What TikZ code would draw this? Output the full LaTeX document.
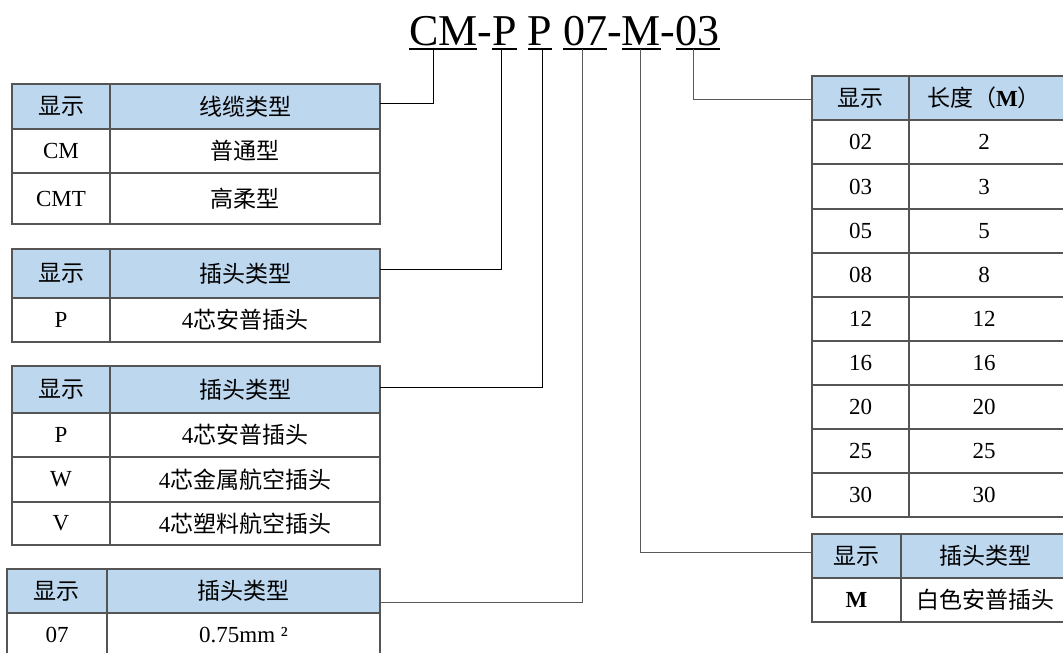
\documentclass[tikz,border=0pt]{standalone}
\usepackage{fontspec}
\setmainfont{Liberation Serif}
\newfontfamily\cjk{Noto Sans CJK SC}
\usetikzlibrary{calc}
\definecolor{hdr}{RGB}{189,215,238}
\definecolor{grid}{RGB}{85,85,85}
\tikzset{
 cell/.style={draw=grid, line width=1.1pt, inner sep=0pt, outer sep=0pt, font=\fontsize{23}{27}\selectfont, anchor=north west},
 head/.style={fill=hdr},
 body/.style={fill=white},
 ttl/.style={inner sep=0pt, outer sep=0pt, font=\fontsize{44}{50}\selectfont, anchor=base west},
 uline/.style={line width=2.5pt},
 conn/.style={line width=0.9pt, draw=black},
 conng/.style={line width=0.9pt, draw=black!65}
}
\newcommand\mkrow[9]{%
 \node[cell,#9,minimum width=#4,minimum height=#6] (#1l) at (#2,#3) {#7};
 \node[cell,#9,minimum width=#5,minimum height=#6] (#1r) at (#1l.north east) {#8};}
\newcommand\rsa[1]{#1\hspace*{20pt}}
\newcommand\rsb[1]{#1\hspace*{10pt}}
\begin{document}
\begin{tikzpicture}[x=1pt,y=-1pt]
\useasboundingbox (0,0) rectangle (1063,653);
\fill[white] (0,0) rectangle (1063,653);
\clip (0,0) rectangle (1063,653);

% title
\node[ttl] (cm) at (409,45) {CM};
\node[ttl] (h1) at (cm.base east) {-};
\node[ttl] (p1) at (h1.base east) {P};
\node[ttl] (p2) at ($(p1.base east)+(11,0)$) {P};
\node[ttl] (z7) at ($(p2.base east)+(11,0)$) {07};
\node[ttl] (h2) at (z7.base east) {-};
\node[ttl] (mm) at (h2.base east) {M};
\node[ttl] (h3) at (mm.base east) {-};
\node[ttl] (l3) at (h3.base east) {03};
\foreach \n in {cm,p1,p2,z7,mm,l3}
  \draw[uline] ($(\n.base west)+(0,4)$) -- ($(\n.base east)+(0,4)$);

% table 1
\mkrow{t1h}{12}{84}{98}{270}{45}{\cjk 显示}{\cjk 线缆类型}{head}
\mkrow{t1a}{12}{129}{98}{270}{44}{CM}{\cjk 普通型}{body}
\mkrow{t1b}{12}{173}{98}{270}{51}{CMT}{\cjk 高柔型}{body}

% table 2
\mkrow{t2h}{12}{249}{98}{270}{49}{\cjk 显示}{\cjk 插头类型}{head}
\mkrow{t2a}{12}{298}{98}{270}{44}{P}{4{\cjk 芯安普插头}}{body}

% table 3
\mkrow{t3h}{12}{366}{98}{270}{47}{\cjk 显示}{\cjk 插头类型}{head}
\mkrow{t3a}{12}{413}{98}{270}{44}{P}{4{\cjk 芯安普插头}}{body}
\mkrow{t3b}{12}{457}{98}{270}{45}{W}{4{\cjk 芯金属航空插头}}{body}
\mkrow{t3c}{12}{502}{98}{270}{43}{V}{4{\cjk 芯塑料航空插头}}{body}

% table 4
\mkrow{t4h}{7}{569}{100}{273}{44}{\cjk 显示}{\cjk 插头类型}{head}
\mkrow{t4a}{7}{613}{100}{273}{44}{07}{0.75mm ²}{body}

% right table 1
\mkrow{r1h}{812}{76}{97}{170}{44}{\cjk 显示}{\rsa{{\cjk 长度（}\textbf{M}{\cjk ）}}}{head}
\mkrow{r1a}{812}{120}{97}{170}{44}{02}{\rsa{2}}{body}
\mkrow{r1b}{812}{164}{97}{170}{45}{03}{\rsa{3}}{body}
\mkrow{r1c}{812}{209}{97}{170}{44}{05}{\rsa{5}}{body}
\mkrow{r1d}{812}{253}{97}{170}{44}{08}{\rsa{8}}{body}
\mkrow{r1e}{812}{297}{97}{170}{44}{12}{\rsa{12}}{body}
\mkrow{r1f}{812}{341}{97}{170}{44}{16}{\rsa{16}}{body}
\mkrow{r1g}{812}{385}{97}{170}{44}{20}{\rsa{20}}{body}
\mkrow{r1i}{812}{429}{97}{170}{44}{25}{\rsa{25}}{body}
\mkrow{r1j}{812}{473}{97}{170}{44}{30}{\rsa{30}}{body}

% right table 2
\mkrow{r2h}{812}{534}{89}{178}{44}{\cjk 显示}{\rsb{\cjk 插头类型}}{head}
\mkrow{r2a}{812}{578}{89}{178}{44}{\textbf{M}}{\rsb{\cjk 白色安普插头}}{body}

% connectors
\coordinate (e1) at (433,103);
\coordinate (e2) at (501,269);
\coordinate (e3) at (542,387);
\coordinate (e4) at (582,602);
\coordinate (e5) at (693,99);
\coordinate (e6) at (640,552);
\draw[conn] (t1hr.east |- e1) -- (e1) -- ($(e1 |- cm.base)+(0,4)$);
\draw[conn] (t2hr.east |- e2) -- (e2) -- ($(e2 |- p1.base)+(0,4)$);
\draw[conn] (t3hr.east |- e3) -- (e3) -- ($(e3 |- p2.base)+(0,4)$);
\draw[conng] (t4hr.east |- e4) -- (e4) -- ($(e4 |- z7.base)+(0,4)$);
\draw[conng] (r1hl.west |- e5) -- (e5) -- ($(e5 |- l3.base)+(0,4)$);
\draw[conng] (r2hl.west |- e6) -- (e6) -- ($(e6 |- mm.base)+(0,4)$);
\end{tikzpicture}
\end{document}
